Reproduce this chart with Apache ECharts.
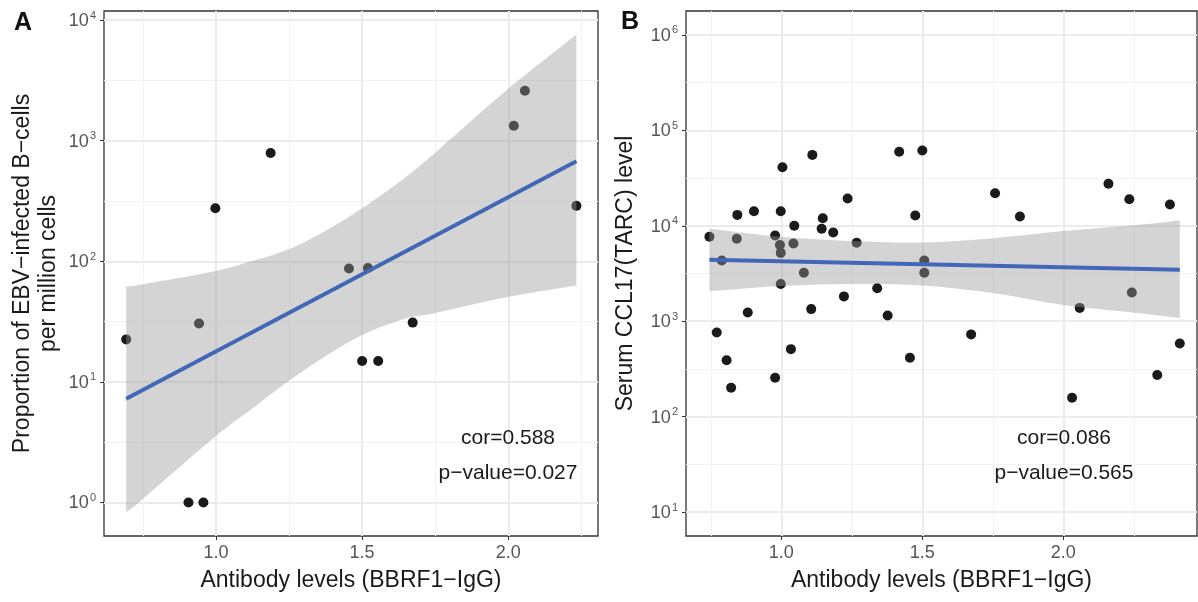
<!DOCTYPE html>
<html>
<head>
<meta charset="utf-8">
<script src="https://cdn.jsdelivr.net/npm/echarts@6/dist/echarts.min.js"></script>
<style>
  html, body { margin: 0; padding: 0; background: #fff; }
  #main { width: 1198px; height: 602px; }
</style>
</head>
<body>
<div id="main"></div>
<script>
// panel A
var antibodyA = [0.693, 0.906, 0.957, 0.942, 0.998, 1.187, 1.455, 1.52, 1.50, 1.555, 1.673, 2.019, 2.057, 2.233];
var ebvA = [22.5, 1, 1, 30.5, 275, 790, 87, 88, 14.9, 14.9, 31, 1330, 2590, 288];
var fitXA = [0.693, 2.233];
var fitYA = [7.24, 676];
var ribbonXA = [0.693, 0.75, 1.0, 1.12, 1.25, 1.38, 1.5, 1.64, 1.75, 2.0, 2.233];
var ribbonLoA = [0.83, 1.07, 3.55, 5.9, 10.2, 16.6, 24.5, 33.1, 37.2, 50.7, 63.1];
var ribbonHiA = [61.7, 64.6, 83.2, 100, 126, 182, 275, 479, 794, 2690, 7586];
var xTicksA = [1.0, 1.5, 2.0];
var yTicksA = [0, 1, 2, 3, 4];

// panel B
var antibodyB = [0.745, 0.789, 0.844, 0.842, 0.903, 0.881, 0.771, 0.806, 0.822, 1.004,
                 0.998, 0.978, 0.995, 0.998, 0.998, 0.978, 1.046, 1.043, 1.034, 1.080,
                 1.110, 1.106, 1.147, 1.143, 1.184, 1.235, 1.267, 1.222, 1.340, 1.377,
                 1.418, 1.500, 1.475, 1.507, 1.507, 1.456, 1.758, 1.846, 1.673, 2.160,
                 2.234, 2.378, 2.058, 2.243, 2.413, 2.333, 2.031];
var ccl17B = [7670, 4330, 13000, 7300, 14200, 1235, 763, 390, 201, 41100,
              14200, 7900, 6300, 5200, 2450, 256, 10000, 6530, 510, 3220,
              55300, 1340, 12000, 9300, 8500, 19300, 6640, 1820, 2220, 1150,
              59600, 61500, 12800, 4330, 3220, 415, 21900, 12500, 728, 27500,
              19000, 16700, 1380, 2000, 585, 273, 158];
var fitXB = [0.745, 2.413];
var fitYB = [4406, 3459];
var ribbonXB = [0.745, 1.0, 1.25, 1.5, 1.75, 2.0, 2.25, 2.413];
var ribbonLoB = [2065, 2344, 2455, 2371, 1972, 1479, 1230, 1084];
var ribbonHiB = [9333, 7674, 6918, 6683, 7413, 8810, 10116, 11350];
var xTicksB = [1.0, 1.5, 2.0];
var yTicksB = [1, 2, 3, 4, 5, 6];

var FONT = 'Liberation Sans, Arial, sans-serif';

function lg(v) { return Math.log10(v); }
function pairs(xs, ys) {
    return xs.map(function (x, i) { return [x, lg(ys[i])]; });
}

// smooth path through pixel points (cardinal spline -> cubic bezier)
function curve(pts, start) {
    var d = start ? 'M' + pts[0][0] + ' ' + pts[0][1] : 'L' + pts[0][0] + ' ' + pts[0][1];
    for (var i = 0; i < pts.length - 1; i++) {
        var p0 = pts[i - 1] || pts[i], p1 = pts[i], p2 = pts[i + 1], p3 = pts[i + 2] || pts[i + 1];
        var c1 = [p1[0] + (p2[0] - p0[0]) / 6, p1[1] + (p2[1] - p0[1]) / 6];
        var c2 = [p2[0] - (p3[0] - p1[0]) / 6, p2[1] - (p3[1] - p1[1]) / 6];
        d += ' C' + c1[0] + ' ' + c1[1] + ' ' + c2[0] + ' ' + c2[1] + ' ' + p2[0] + ' ' + p2[1];
    }
    return d;
}

function ribbonSeries(idx, rx, rlo, rhi) {
    return {
        type: 'custom', xAxisIndex: idx, yAxisIndex: idx, z: 3, silent: true,
        data: rx.map(function (x, i) { return [x, lg(rlo[i]), lg(rhi[i])]; }),
        encode: { x: 0, y: [1, 2] },
        renderItem: function (params, api) {
            if (params.dataIndex !== 0) return null;
            var up = [], lo = [];
            for (var i = 0; i < rx.length; i++) {
                up.push(api.coord([rx[i], lg(rhi[i])]));
                lo.push(api.coord([rx[i], lg(rlo[i])]));
            }
            lo.reverse();
            return {
                type: 'path',
                shape: { pathData: curve(up, true) + ' ' + curve(lo, false) + ' Z' },
                style: { fill: 'rgba(153,153,153,0.42)', stroke: null }
            };
        }
    };
}

function xAxisFor(idx, min, max, ticks) {
    return {
        type: 'value', gridIndex: idx, min: min, max: max, splitNumber: 3,
        name: 'Antibody levels (BBRF1\u2212IgG)',
        nameLocation: 'middle', nameGap: 33,
        nameTextStyle: { fontFamily: FONT, fontSize: 23, color: '#1a1a1a' },
        axisLine: { show: false, onZero: false },
        axisTick: { show: true, length: 4, customValues: ticks, lineStyle: { color: '#333', width: 1 } },
        axisLabel: {
            customValues: ticks, margin: 8, color: '#555', fontFamily: FONT, fontSize: 18,
            formatter: function (v) { return v.toFixed(1); }
        },
        splitLine: { show: true, lineStyle: { color: '#ebebeb', width: 2 } },
        minorTick: { show: false, splitNumber: 2 },
        minorSplitLine: { show: true, lineStyle: { color: '#f2f2f2', width: 1 } }
    };
}

function yAxisFor(idx, min, max, ticks, title, gap) {
    return {
        type: 'value', gridIndex: idx, min: min, max: max, splitNumber: 5,
        name: title, nameLocation: 'middle', nameGap: gap, nameRotate: 90,
        nameTextStyle: { fontFamily: FONT, fontSize: 23, color: '#1a1a1a', lineHeight: 26 },
        axisLine: { show: false, onZero: false },
        axisTick: { show: true, length: 4, customValues: ticks, lineStyle: { color: '#333', width: 1 } },
        axisLabel: {
            customValues: ticks, margin: 8,
            formatter: function (v) { return '{b|10}{e|' + Math.round(v) + '}'; },
            rich: {
                b: { fontFamily: FONT, fontSize: 18, color: '#555', verticalAlign: 'bottom' },
                e: { fontFamily: FONT, fontSize: 11, color: '#555', verticalAlign: 'top', padding: [0, 0, 9, 1] }
            }
        },
        splitLine: { show: true, lineStyle: { color: '#ebebeb', width: 2 } },
        minorTick: { show: false, splitNumber: 2 },
        minorSplitLine: { show: true, lineStyle: { color: '#f2f2f2', width: 1 } }
    };
}

function panelSeries(idx, xs, ys, rx, rlo, rhi, fx, fy) {
    return [
        {
            type: 'scatter', xAxisIndex: idx, yAxisIndex: idx, z: 2,
            symbolSize: 10, itemStyle: { color: '#1a1a1a', opacity: 1 },
            data: pairs(xs, ys)
        },
        ribbonSeries(idx, rx, rlo, rhi),
        {
            type: 'line', xAxisIndex: idx, yAxisIndex: idx, z: 4,
            symbol: 'none', lineStyle: { color: '#4267b6', width: 4 },
            data: pairs(fx, fy)
        }
    ];
}

var myChart = echarts.init(document.getElementById('main'), null, { renderer: 'canvas' });

var option = {
    animation: false,
    backgroundColor: '#fff',
    grid: [
        { left: 104, top: 11, width: 494, height: 525, show: true, borderColor: '#333', borderWidth: 1.3, backgroundColor: 'transparent' },
        { left: 686, top: 11, width: 511, height: 525, show: true, borderColor: '#333', borderWidth: 1.3, backgroundColor: 'transparent' }
    ],
    xAxis: [
        xAxisFor(0, 0.617, 2.307, xTicksA),
        xAxisFor(1, 0.662, 2.474, xTicksB)
    ],
    yAxis: [
        yAxisFor(0, -0.278, 4.075, yTicksA, 'Proportion of EBV\u2212infected B\u2212cells\nper million cells', 42),
        yAxisFor(1, 0.75, 6.25, yTicksB, 'Serum CCL17(TARC) level', 47)
    ],
    series: panelSeries(0, antibodyA, ebvA, ribbonXA, ribbonLoA, ribbonHiA, fitXA, fitYA)
        .concat(panelSeries(1, antibodyB, ccl17B, ribbonXB, ribbonLoB, ribbonHiB, fitXB, fitYB)),
    graphic: [
        { type: 'text', x: 23, y: 23, style: { text: 'A', font: 'bold 25px ' + FONT, fill: '#111', align: 'center', verticalAlign: 'middle' } },
        { type: 'text', x: 630, y: 22, style: { text: 'B', font: 'bold 25px ' + FONT, fill: '#111', align: 'center', verticalAlign: 'middle' } },
        { type: 'text', x: 508, y: 438, z: 10, style: { text: 'cor=0.588', font: '21px ' + FONT, fill: '#1a1a1a', align: 'center', verticalAlign: 'middle' } },
        { type: 'text', x: 508, y: 473, z: 10, style: { text: 'p\u2212value=0.027', font: '21px ' + FONT, fill: '#1a1a1a', align: 'center', verticalAlign: 'middle' } },
        { type: 'text', x: 1064, y: 438, z: 10, style: { text: 'cor=0.086', font: '21px ' + FONT, fill: '#1a1a1a', align: 'center', verticalAlign: 'middle' } },
        { type: 'text', x: 1064, y: 473, z: 10, style: { text: 'p\u2212value=0.565', font: '21px ' + FONT, fill: '#1a1a1a', align: 'center', verticalAlign: 'middle' } }
    ]
};

myChart.setOption(option);
</script>
</body>
</html>
